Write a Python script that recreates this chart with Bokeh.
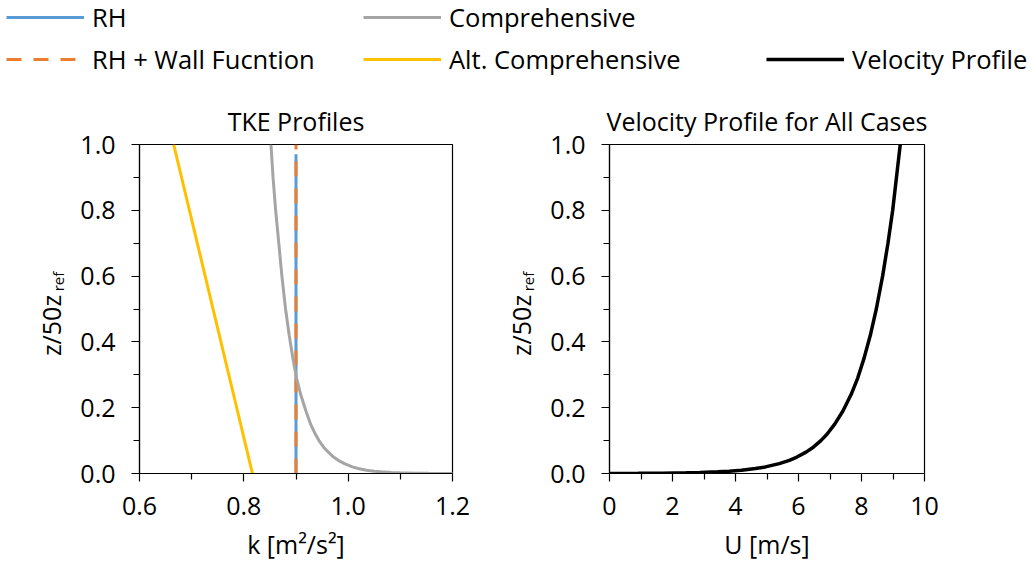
import math
from bokeh.plotting import figure
from bokeh.layouts import column, row
from bokeh.models import (FixedTicker, PrintfTickFormatter, Legend, LegendItem,
                          Label, Range1d, ColumnDataSource)
from bokeh.embed import file_html
from bokeh.resources import INLINE

# ---------------- data ----------------
# TKE profiles: z/50z_ref vs k [m2/s2]
rh_z = [0.0, 0.97]
rh_k = [0.9, 0.9]

wall_z = [0.0, 1.0]
wall_k = [0.9, 0.9]

comp_z = [0.0001, 0.0002, 0.0003, 0.0005, 0.001, 0.002, 0.003, 0.005, 0.007, 0.01,
          0.015, 0.02, 0.03, 0.04, 0.05, 0.065, 0.08, 0.1, 0.12, 0.15, 0.19, 0.24,
          0.29, 0.35, 0.42, 0.5, 0.6, 0.7, 0.8, 0.9, 1.0]
comp_k = [1.219, 1.191, 1.175, 1.154, 1.127, 1.099, 1.083, 1.063, 1.050, 1.035,
          1.019, 1.008, 0.993, 0.981, 0.972, 0.962, 0.953, 0.944, 0.937, 0.928, 0.919, 0.909,
          0.901, 0.894, 0.887, 0.880, 0.873, 0.867, 0.861, 0.856, 0.852]

alt_z = [0.0, 1.0]
alt_k = [0.8165, 0.6655]

# Velocity profile: z/50z_ref vs U [m/s]
vel_z = [0.0, 0.00022, 0.0003, 0.0005, 0.001, 0.002, 0.003, 0.005, 0.007, 0.01, 0.015,
         0.02, 0.03, 0.04, 0.05, 0.065, 0.08, 0.1, 0.12, 0.15, 0.19, 0.24, 0.29, 0.35,
         0.42, 0.5, 0.6, 0.7, 0.8, 0.9, 1.0]
vel_u = [0.0, 0.0, 0.35, 0.91, 1.67, 2.43, 2.87, 3.43, 3.80, 4.19, 4.63,
         4.95, 5.39, 5.71, 5.95, 6.24, 6.47, 6.71, 6.91, 7.15, 7.41, 7.67, 7.88, 8.08,
         8.28, 8.47, 8.67, 8.84, 8.99, 9.11, 9.23]

y_ticks = [0.0, 0.2, 0.4, 0.6, 0.8, 1.0]
y_minor = [0.1, 0.3, 0.5, 0.7, 0.9]
k_ticks = [0.6, 0.8, 1.0, 1.2]
k_minor = [0.7, 0.9, 1.1]
u_ticks = [0, 2, 4, 6, 8, 10]
u_minor = [1, 3, 5, 7, 9]

titles = ["TKE Profiles", "Velocity Profile for All Cases"]
x_labels = ["k [m\u00b2/s\u00b2]", "U [m/s]"]
y_label_main = "z/50z"
y_label_sub = "ref"
series_names = ["RH", "RH + Wall Fucntion", "Comprehensive", "Alt. Comprehensive", "Velocity Profile"]

# ---------------- style ----------------
FONT = "Open Sans"
FS = "25px"
LEG_FS = "25.5px"
C_BLUE = "#5B9BD5"
C_ORANGE = "#ED7D31"
C_GRAY = "#A5A5A5"
C_YELLOW = "#FFC000"
C_BLACK = "#000000"
DASH = "15 12"
PH = 471  # height of the plot row


def style(p, xt, xm, fmt):
    p.xgrid.visible = False
    p.ygrid.visible = False
    p.outline_line_color = "black"
    p.outline_line_width = 1.2
    p.outline_line_alpha = 1
    p.title.align = "center"
    p.title.text_font = FONT
    p.title.text_font_size = FS
    p.title.text_font_style = "normal"
    p.title.text_color = "black"
    p.title.standoff = 13
    p.xaxis.ticker = FixedTicker(ticks=xt, minor_ticks=xm)
    p.xaxis.formatter = PrintfTickFormatter(format=fmt)
    p.yaxis.ticker = FixedTicker(ticks=y_ticks, minor_ticks=y_minor)
    p.yaxis.formatter = PrintfTickFormatter(format="%.1f")
    for ax in (p.xaxis, p.yaxis):
        ax.axis_line_color = "black"
        ax.axis_line_width = 1.2
        ax.major_tick_line_color = "black"
        ax.minor_tick_line_color = "black"
        ax.major_tick_line_width = 1.2
        ax.minor_tick_line_width = 1.2
        ax.major_tick_in = 0
        ax.major_tick_out = 8
        ax.minor_tick_in = 0
        ax.minor_tick_out = 6
        ax.major_label_text_font = FONT
        ax.major_label_text_font_size = FS
        ax.major_label_text_color = "black"
        ax.axis_label_text_font = FONT
        ax.axis_label_text_font_size = FS
        ax.axis_label_text_font_style = "normal"
        ax.axis_label_text_color = "black"
    p.xaxis.major_label_standoff = 15
    p.yaxis.major_label_standoff = 16
    p.xaxis.axis_label_standoff = 9


def ylabel_fig():
    # frame of this strip is aligned by the row with the plot frames,
    # so screen y is measured from the plot frame bottom
    f = figure(width=70, height=PH, x_range=Range1d(0, 1), y_range=Range1d(0, 1),
               x_axis_type=None, y_axis_type=None, output_backend="svg", toolbar_location=None,
               min_border=0, min_border_left=0, min_border_right=0,
               min_border_top=0, min_border_bottom=0)
    f.outline_line_color = None
    f.xgrid.visible = False
    f.ygrid.visible = False
    f.add_layout(Label(x=50, y=148, x_units="screen", y_units="screen", text=y_label_main,
                       angle=math.pi / 2, text_font=FONT, text_font_size=FS,
                       text_align="center", text_baseline="middle", text_color="black"))
    f.add_layout(Label(x=57, y=192, x_units="screen", y_units="screen", text=y_label_sub,
                       angle=math.pi / 2, text_font=FONT, text_font_size="15px",
                       text_align="center", text_baseline="middle", text_color="black"))
    return f


# ---------------- left plot ----------------
left = figure(width=400, height=PH, x_range=Range1d(0.6, 1.2), y_range=Range1d(0, 1),
              output_backend="svg", toolbar_location=None, title=titles[0],
              min_border_left=69, min_border_right=18, min_border_top=49, min_border_bottom=93)
style(left, k_ticks, k_minor, "%.1f")
left.xaxis.axis_label = x_labels[0]
left.line(rh_k, rh_z, line_color=C_BLUE, line_width=3)
left.line(wall_k, wall_z, line_color=C_ORANGE, line_width=3, line_dash=DASH)
left.line(comp_k, comp_z, line_color=C_GRAY, line_width=3)
left.line(alt_k, alt_z, line_color=C_YELLOW, line_width=3)

# ---------------- right plot ----------------
right = figure(width=492, height=PH, x_range=Range1d(0, 10), y_range=Range1d(0, 1),
               output_backend="svg", toolbar_location=None, title=titles[1],
               min_border_left=69, min_border_right=108, min_border_top=49, min_border_bottom=93)
style(right, u_ticks, u_minor, "%d")
right.xaxis.axis_label = x_labels[1]
right.line(vel_u, vel_z, line_color=C_BLACK, line_width=3.5)

# ---------------- legend strip ----------------
leg = figure(width=1032, height=95, x_range=Range1d(0, 1), y_range=Range1d(0, 1),
             x_axis_type=None, y_axis_type=None, output_backend="svg", toolbar_location=None,
             min_border=0, min_border_left=0, min_border_right=0, min_border_top=0, min_border_bottom=0)
leg.outline_line_color = None
leg.xgrid.visible = False
leg.ygrid.visible = False
nan = float("nan")
dummy = ColumnDataSource(data=dict(x=[nan], y=[nan]))
r_rh = leg.line("x", "y", source=dummy, line_color=C_BLUE, line_width=3)
r_wall = leg.line("x", "y", source=dummy, line_color=C_ORANGE, line_width=3, line_dash=DASH)
r_comp = leg.line("x", "y", source=dummy, line_color=C_GRAY, line_width=3)
r_alt = leg.line("x", "y", source=dummy, line_color=C_YELLOW, line_width=3)
r_vel = leg.line("x", "y", source=dummy, line_color=C_BLACK, line_width=3.5)


def make_legend(items, loc):
    lg = Legend(items=items, location=loc, orientation="vertical",
                border_line_color=None, background_fill_alpha=0, padding=0, margin=0,
                spacing=8, label_text_font=FONT, label_text_font_size=LEG_FS,
                label_text_color="black", glyph_width=78, glyph_height=20, label_standoff=8)
    leg.add_layout(lg)


make_legend([LegendItem(label=series_names[0], renderers=[r_rh]),
             LegendItem(label=series_names[1], renderers=[r_wall])], (6, 19))
make_legend([LegendItem(label=series_names[2], renderers=[r_comp]),
             LegendItem(label=series_names[3], renderers=[r_alt])], (363, 19))
make_legend([LegendItem(label=series_names[4], renderers=[r_vel])], (766, 19))

layout = column(leg, row(ylabel_fig(), left, ylabel_fig(), right, spacing=0), spacing=0)
open("out.html", "w").write(file_html(layout, INLINE))
